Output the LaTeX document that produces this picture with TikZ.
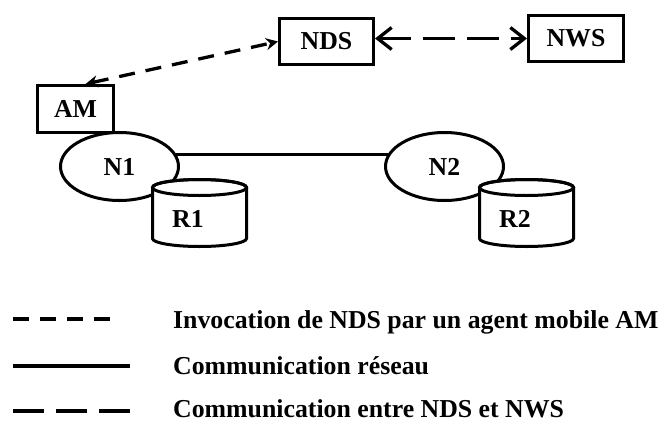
\documentclass[tikz,border=0pt]{standalone}
\usepackage{fontspec}
\setmainfont{Liberation Serif}
\usetikzlibrary{shapes.geometric,arrows.meta}

\begin{document}
\begin{tikzpicture}[x=1pt,y=-1pt,
  every node/.style={font=\fontsize{25.8}{30}\selectfont\bfseries},
  box/.style={draw,line width=3pt,fill=white,inner sep=0pt},
  host/.style={ellipse,draw,line width=3pt,fill=white,
    minimum width=118pt,minimum height=68pt,inner sep=0pt},
  drum/.style={draw,line width=3pt,fill=white},
  invoke/.style={line width=3.3pt,dash pattern=on 16pt off 11pt,
    arrows={Stealth[length=12pt,width=12pt]-Stealth[length=12pt,width=12pt]}},
  wsline/.style={line width=3.3pt,dash pattern=on 32pt off 12pt,
    arrows={Straight Barb[length=14pt,width=22pt]-Straight Barb[length=14pt,width=22pt]}},
  netline/.style={line width=3.3pt},
  keyline/.style={line width=4pt},
  legend/.style={anchor=base west,inner sep=0pt},
]
\useasboundingbox (0,0) rectangle (663,423);

% hosts and the network link between them
\node[host] (n1) at (119.5,166.5) {N1};
\node[host] (n2) at (444.5,166.5) {N2};
\draw[netline] (n1.12) -- (n2.168);

% repositories (drums)
\filldraw[drum] (152.5,187.5) -- (152.5,238.5)
  arc[start angle=180,end angle=360,x radius=47pt,y radius=8pt]
  -- (246.5,187.5)
  arc[start angle=0,end angle=180,x radius=47pt,y radius=8pt] -- cycle;
\draw[line width=3pt] (199.5,187.5) ellipse[x radius=47pt,y radius=8pt];
\node (r1) at (188,219) {R1};

\filldraw[drum] (479.5,187.5) -- (479.5,238.5)
  arc[start angle=180,end angle=360,x radius=47pt,y radius=8pt]
  -- (573.5,187.5)
  arc[start angle=0,end angle=180,x radius=47pt,y radius=8pt] -- cycle;
\draw[line width=3pt] (526.5,187.5) ellipse[x radius=47pt,y radius=8pt];
\node (r2) at (515,219) {R2};

% services and the mobile agent
\node[box,minimum width=76pt,minimum height=47pt] (am) at (75.5,109) {AM};
\node[box,minimum width=94pt,minimum height=46pt] (nds) at (326.5,41.5) {NDS};
\node[box,minimum width=95pt,minimum height=46pt] (nws) at (576,38.5) {NWS};

% invocations
\draw[invoke] (am.68) -- (nds.west);
\draw[wsline] (nds.east |- nws.west) -- (nws.west);

% legend
\coordinate (k1a) at (13,319);  \coordinate (k1b) at (110,319);
\coordinate (k2a) at (13,366);  \coordinate (k2b) at (130,366);
\coordinate (k3a) at (13,411);  \coordinate (k3b) at (130,411);
\draw[keyline,dash pattern=on 16pt off 11pt] (k1a) -- (k1b);
\draw[keyline] (k2a) -- (k2b);
\draw[keyline,dash pattern=on 31pt off 12pt] (k3a) -- (k3b);
\node[legend] (t1) at (173,328) {Invocation de NDS par un agent mobile AM};
\node[legend] (t2) at (173,374.5) {Communication réseau};
\node[legend] (t3) at (173,417) {Communication entre NDS et NWS};
\end{tikzpicture}
\end{document}
